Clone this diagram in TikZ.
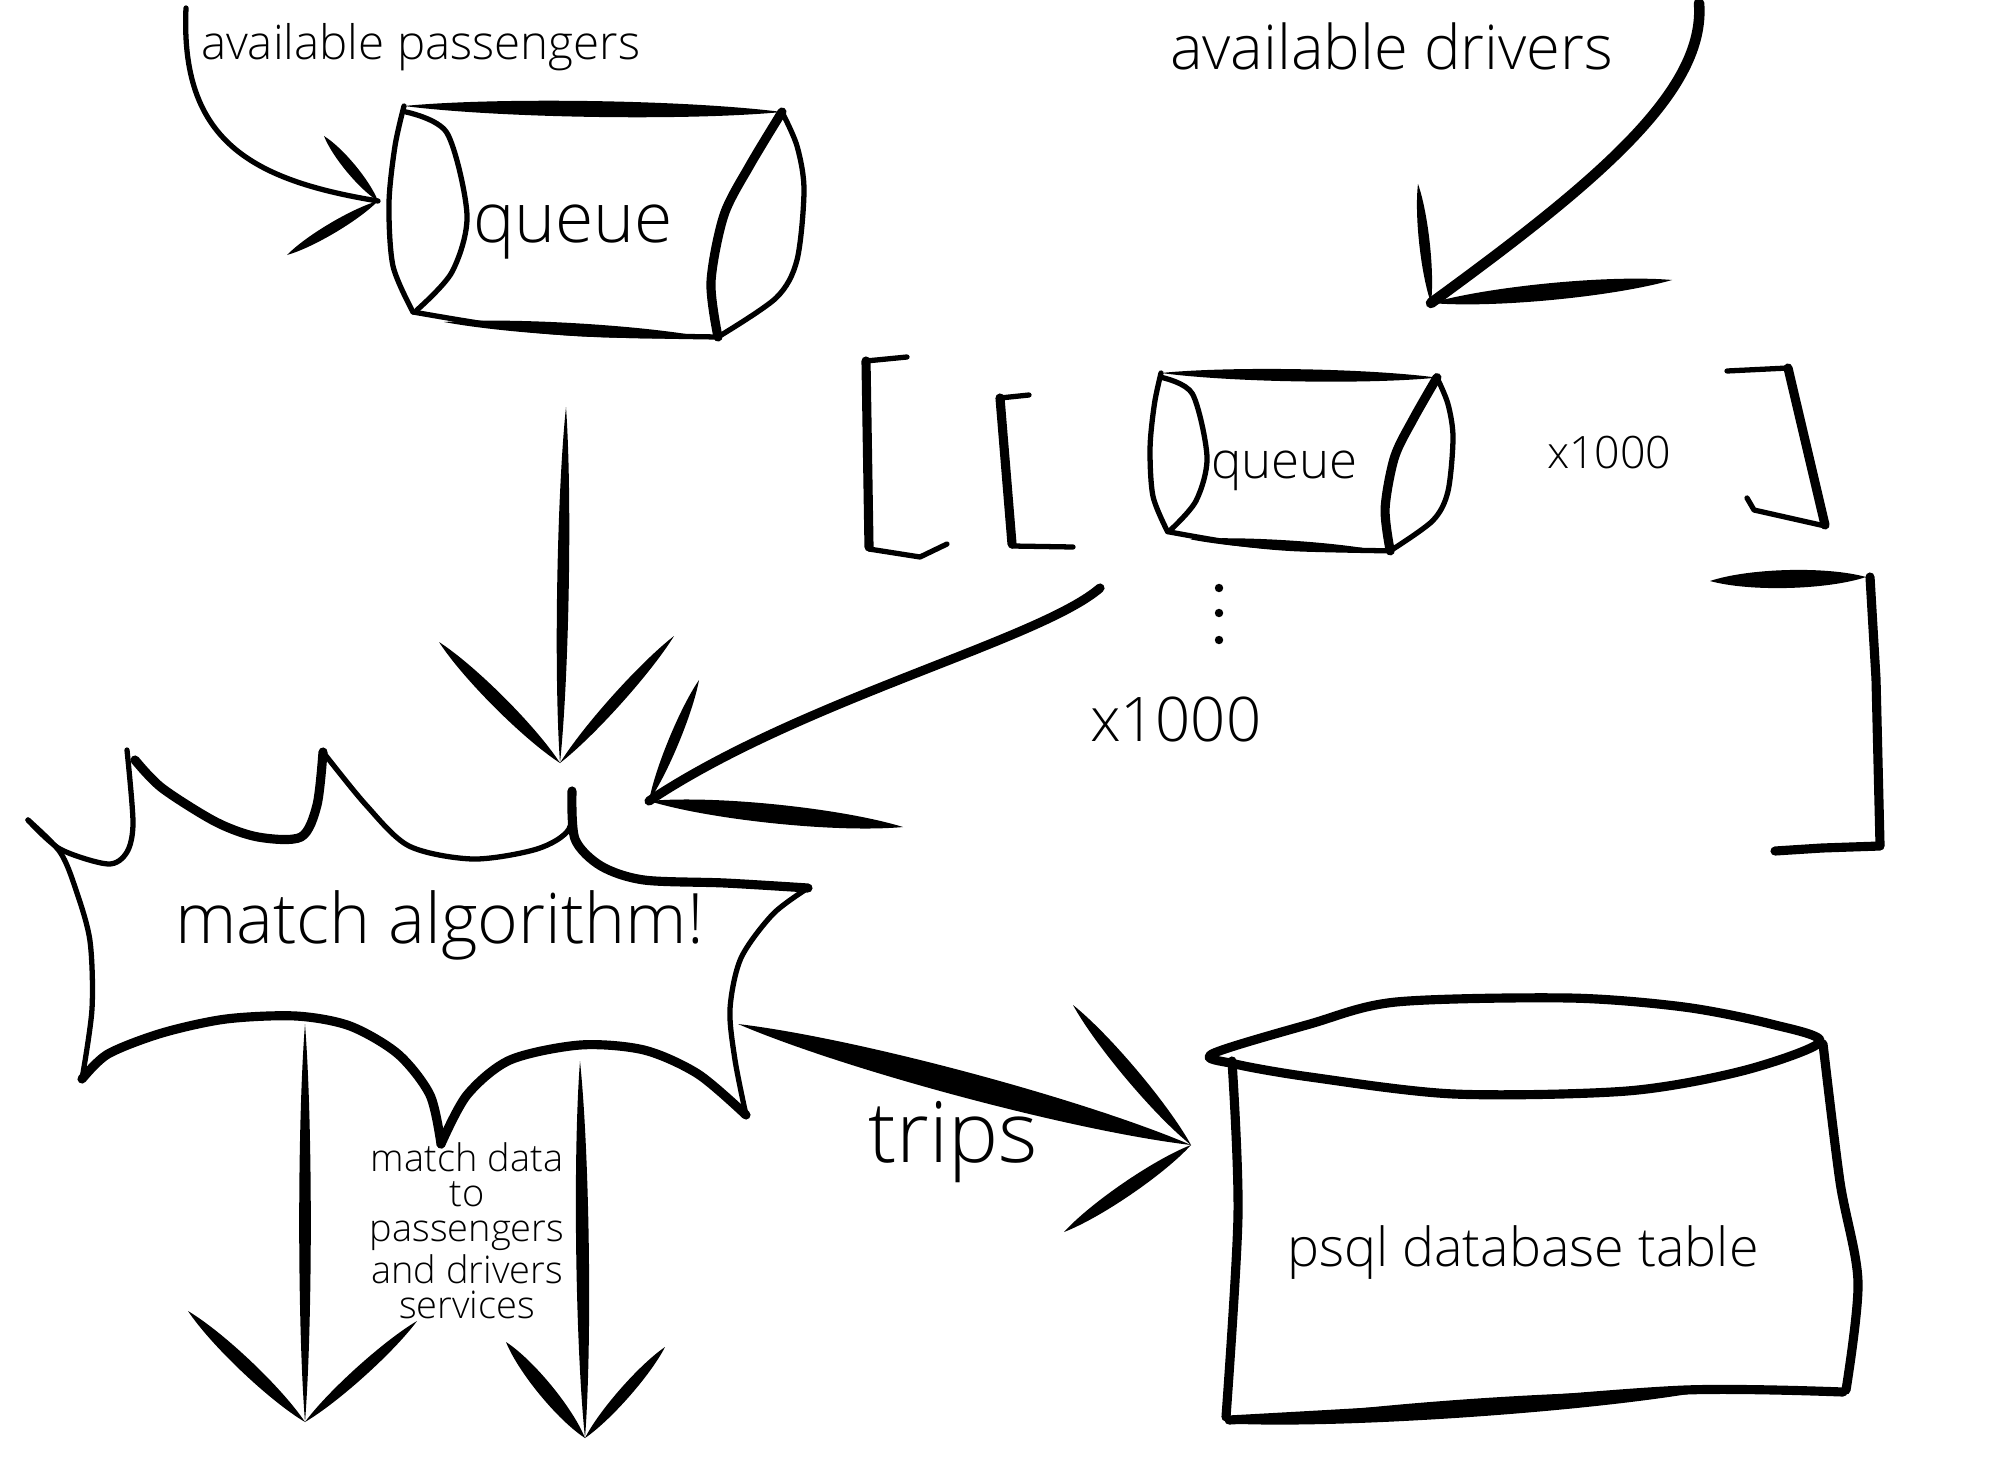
\documentclass[tikz,border=0pt]{standalone}
\usepackage{fontspec}
\setmainfont{Open Sans Light}
\usetikzlibrary{calc}

% one tapered brush stroke: from, to, half width
\newcommand{\inkstroke}[3]{%
  \fill (#1) .. controls ($(#1)!0.25!(#2)!#3!90:(#2)$) and ($(#1)!0.75!(#2)!#3!90:(#2)$) .. (#2)
    .. controls ($(#2)!0.25!(#1)!#3!90:(#1)$) and ($(#2)!0.75!(#1)!#3!90:(#1)$) .. (#1) -- cycle;}

\tikzset{
  pen/.style={line width=1.5pt, line cap=round, line join=round},
  fatpen/.style={pen, line width=2.6pt},
  lbl/.style={inner sep=0pt, outer sep=0pt, anchor=base west},
  queuepic/.pic={
    \draw[pen] plot[smooth] coordinates {(0,0) (-9,40) (-15,97) (-11,160) (9,206)};
    \draw[pen] plot[smooth] coordinates {(2,6) (43,27) (63,109) (48,166) (13,204)};
    \inkstroke{0,0}{378,6}{3pt}
    \draw[pen] plot[smooth] coordinates {(9,206) (95,220) (181,228) (314,231)};
    \inkstroke{40,216}{300,231}{2.4pt}
    \draw[fatpen] plot[smooth] coordinates {(378,6) (346,59) (320,109) (307,176) (314,231)};
    \draw[pen] plot[smooth] coordinates {(378,6) (393,40) (400,84) (393,154) (372,192) (314,231)};
  }
}

\begin{document}
\begin{tikzpicture}[x=0.01cm, y=-0.01cm]
  \tikzset{dot/.style={circle, fill, inner sep=0pt, minimum size=2.4pt}};
  \fill[white] (0,0) rectangle (1994,1482);
  \useasboundingbox (0,0) rectangle (1994,1482);

  % labels
  \node[lbl, font=\fontsize{13.5}{16}\selectfont] (paxlbl) at (201,60) {available passengers};
  \node[lbl, font=\fontsize{17.5}{20}\selectfont] (drvlbl) at (1170,70) {available drivers};
  \node[lbl, font=\fontsize{19.8}{22}\selectfont] (q1txt) at (473,242) {queue};
  \node[lbl, font=\fontsize{14.5}{16}\selectfont] (q2txt) at (1211,478) {queue};
  \node[lbl, font=\fontsize{12.7}{15}\selectfont] (innerx) at (1547,468) {x1000};
  \node[lbl, font=\fontsize{17.5}{20}\selectfont] (outerx) at (1090,741) {x1000};
  \node[lbl, font=\fontsize{19.8}{22}\selectfont] (algo) at (175,943) {match algorithm!};
  \node[lbl, font=\fontsize{24}{26}\selectfont] (trips) at (868,1162) {trips};
  \node[lbl, font=\fontsize{15.3}{18}\selectfont] (psql) at (1287,1266) {psql database table};
  \node[inner sep=0pt, anchor=north, align=center, font=\fontsize{10.8}{10}\selectfont] (notify) at (467,1142)
    {match data\\to\\passengers\\and drivers\\services};

  % queues
  \pic at (404,106) {queuepic};
  \pic[xscale=0.73, yscale=0.77] at (1161,373) {queuepic};

  % brackets and dots
  \draw[pen] (907,357) -- (866,361);
  \draw[fatpen] (866,361) -- (869,547);
  \draw[pen] (869,549) -- (920,557) -- (947,544);
  \draw[pen] (1029,395) -- (1000,398);
  \draw[fatpen] (1000,398) -- (1012,544);
  \draw[pen] (1012,546) -- (1073,547);
  \draw[pen] (1727,371) -- (1788,368);
  \draw[fatpen] (1788,368) -- (1825,525);
  \draw[pen] (1825,526) -- (1754,510) -- (1747,498);
  \inkstroke{1710,581}{1866,577}{3.4pt}
  \draw[fatpen] (1870,577) -- (1876,679) -- (1880,845);
  \draw[fatpen] (1880,846) -- (1822,848) -- (1775,851);
  \node[dot] (d1) at (1219,588) {};
  \node[dot] (d2) at (1219,613) {};
  \node[dot] (d3) at (1219,640) {};

  % match burst
  \draw[pen] plot[smooth] coordinates {(28,820) (60,849) (108,864) (127,852) (133,822) (127,750)};
  \draw[fatpen] plot[smooth] coordinates {(135,760) (162,788) (216,822) (258,837) (301,837) (317,805) (323,752)};
  \draw[pen] plot[smooth] coordinates {(323,752) (366,805) (409,846) (473,859) (537,849) (569,829) (572,791)};
  \draw[fatpen] plot[smooth] coordinates {(572,791) (575,839) (601,866) (644,880) (725,883) (808,888)};
  \draw[pen] plot[smooth] coordinates {(808,888) (773,914) (741,958) (730,1009) (735,1060) (746,1115)};
  \draw[fatpen] plot[smooth] coordinates {(746,1115) (698,1074) (644,1050) (580,1045) (510,1060) (467,1095) (441,1144)};
  \draw[fatpen] plot[smooth] coordinates {(441,1144) (430,1095) (398,1054) (350,1026) (296,1016) (226,1019) (162,1033) (108,1054) (82,1079)};
  \draw[pen] plot[smooth] coordinates {(82,1079) (92,1009) (90,941) (76,890) (60,852) (28,820)};

  % database table
  \draw[fatpen] plot[smooth cycle] coordinates {(1212,1054) (1310,1024) (1396,1002) (1569,998) (1684,1007) (1771,1024) (1820,1042)
    (1742,1071) (1627,1091) (1454,1094) (1310,1077) (1235,1064)};
  \draw[fatpen] plot[smooth] coordinates {(1232,1061) (1238,1215) (1226,1417)};
  \draw[fatpen] plot[smooth] coordinates {(1823,1044) (1840,1182) (1858,1282) (1846,1390)};
  \draw[fatpen] plot[smooth] coordinates {(1229,1420) (1454,1407) (1685,1390) (1843,1392)};
  \inkstroke{1240,1424}{1700,1392}{3.4pt}

  % connectors
  \coordinate (paxsrc) at (186,8);
  \coordinate (paxtip) at (378,201);
  \coordinate (drvsrc) at (1699,3);
  \coordinate (drvtip) at (1431,303);
  \coordinate (q1out) at (566,407);
  \coordinate (algoin) at (560,763);
  \coordinate (q2out) at (1100,588);
  \coordinate (algoside) at (649,801);
  \coordinate (algoout1) at (305,1024);
  \coordinate (svc1) at (305,1422);
  \coordinate (algoout2) at (580,1061);
  \coordinate (svc2) at (585,1438);
  \coordinate (algoout3) at (738,1024);
  \coordinate (dbin) at (1191,1145);

  \draw[pen] (paxsrc) .. controls (180,140) and (250,180) .. (paxtip);
  \inkstroke{324,136}{paxtip}{2pt}
  \inkstroke{287,255}{paxtip}{2pt}

  \draw[fatpen, line width=3pt] (drvsrc) .. controls (1706,90) and (1600,180) .. (drvtip);
  \inkstroke{1418,184}{drvtip}{2pt}
  \inkstroke{1672,280}{drvtip}{3.2pt}

  \inkstroke{q1out}{algoin}{2.2pt}
  \inkstroke{439,642}{algoin}{2.6pt}
  \inkstroke{674,636}{algoin}{2.2pt}

  \draw[fatpen] (q2out) .. controls (1040,640) and (800,700) .. (algoside);
  \inkstroke{699,680}{algoside}{2pt}
  \inkstroke{903,827}{algoside}{3.6pt}

  \inkstroke{algoout1}{svc1}{2.2pt}
  \inkstroke{188,1311}{svc1}{2.6pt}
  \inkstroke{417,1321}{svc1}{2.2pt}

  \inkstroke{algoout2}{svc2}{2.4pt}
  \inkstroke{506,1342}{svc2}{2.8pt}
  \inkstroke{665,1347}{svc2}{2.2pt}

  \inkstroke{algoout3}{dbin}{4.8pt}
  \inkstroke{1073,1005}{dbin}{2.6pt}
  \inkstroke{1064,1232}{dbin}{2.6pt}
\end{tikzpicture}
\end{document}
